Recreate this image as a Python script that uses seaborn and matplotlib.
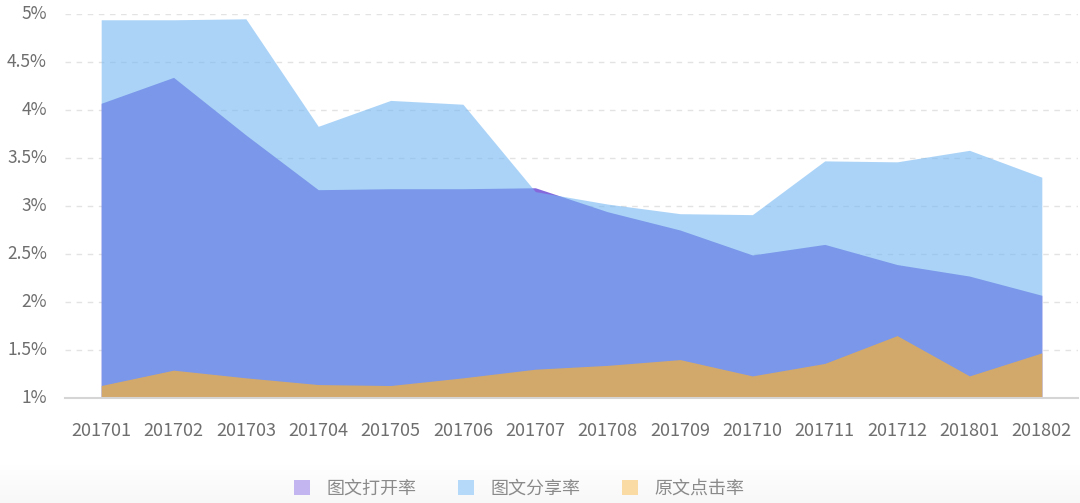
import numpy as np
import pandas as pd
import seaborn as sns
import matplotlib.pyplot as plt
from matplotlib.patches import Patch

# data (percent)
months = ['201701', '201702', '201703', '201704', '201705', '201706', '201707',
          '201708', '201709', '201710', '201711', '201712', '201801', '201802']
open_rate = [4.07, 4.34, 3.74, 3.17, 3.18, 3.18, 3.19, 2.94, 2.75, 2.49, 2.60, 2.39, 2.27, 2.07]
share_rate = [4.94, 4.94, 4.95, 3.83, 4.10, 4.06, 3.15, 3.02, 2.92, 2.91, 3.47, 3.46, 3.58, 3.30]
click_rate = [1.13, 1.29, 1.21, 1.14, 1.13, 1.21, 1.30, 1.34, 1.40, 1.23, 1.36, 1.65, 1.23, 1.47]

names = ['图文打开率', '图文分享率', '原文点击率']
fill_colors = ['#8569DC', '#73B7F3', '#EAAD4C']
fill_alpha = [1.0, 0.6, 0.8]
legend_colors = ['#C3B5F0', '#B5D9F8', '#FADBA4']

df = pd.DataFrame({'month': months, names[0]: open_rate,
                   names[1]: share_rate, names[2]: click_rate})
df_long = df.melt(id_vars='month', var_name='series', value_name='rate')

sns.set_style('white')
plt.rcParams['font.family'] = ['Noto Sans CJK SC', 'DejaVu Sans']

fig = plt.figure(figsize=(10.8, 5.03), dpi=100)

# faint grey band at the bottom of the screenshot (white on top, grey at bottom)
bg = fig.add_axes([0, 0, 1, 0.08])
grad = np.linspace(1, 0, 50).reshape(-1, 1)
bg.imshow(grad, aspect='auto', cmap='Greys', vmin=0, vmax=16,
          extent=[0, 1, 0, 1], origin='lower')
bg.axis('off')

ax = fig.add_axes([65 / 1080, 105 / 503, 1013 / 1080, 384 / 503])

# draw the lines with seaborn (invisible), fill under them
sns.lineplot(data=df_long, x='month', y='rate', hue='series', hue_order=names,
             palette=fill_colors, linewidth=0, legend=False, ax=ax, sort=False)
x = np.arange(len(months))
for name, c, a in zip(names, fill_colors, fill_alpha):
    ax.fill_between(x, 1, df[name], color=c, alpha=a, linewidth=0, zorder=2)

ax.set_xlim(-0.5, len(months) - 0.5)
ax.set_ylim(1, 5)
ax.set_yticks([1, 1.5, 2, 2.5, 3, 3.5, 4, 4.5, 5])
ax.set_yticklabels(['1%', '1.5%', '2%', '2.5%', '3%', '3.5%', '4%', '4.5%', '5%'])
ax.set_xticks(x)
ax.set_xticklabels(months)
ax.set_xlabel('')
ax.set_ylabel('')

ax.grid(axis='y', color='#E3E3E3', linestyle=(0, (4, 4)), linewidth=1, zorder=0)
ax.grid(axis='x', visible=False)
for s in ['top', 'right', 'left']:
    ax.spines[s].set_visible(False)
ax.spines['bottom'].set_color('#D5D5D5')
ax.spines['bottom'].set_linewidth(1.5)
ax.spines['bottom'].set_zorder(3)

ax.tick_params(axis='x', length=5, width=1, color='#D5D5D5', pad=12,
               labelsize=13, labelcolor='#6E6E6E')
ax.tick_params(axis='y', length=0, pad=13, labelsize=12.5, labelcolor='#6E6E6E')
for lbl in ax.get_yticklabels():
    lbl.set_va('center')

handles = [Patch(facecolor=c, edgecolor='none') for c in legend_colors]
fig.legend(handles, names, loc='center', bbox_to_anchor=(519 / 1080, 1 - 489 / 503),
           ncol=3, frameon=False, fontsize=13, labelcolor='#8A8A8A',
           handlelength=0.9, handleheight=0.9, handletextpad=0.9, columnspacing=2.3)

fig.savefig('out.png', dpi=100)
